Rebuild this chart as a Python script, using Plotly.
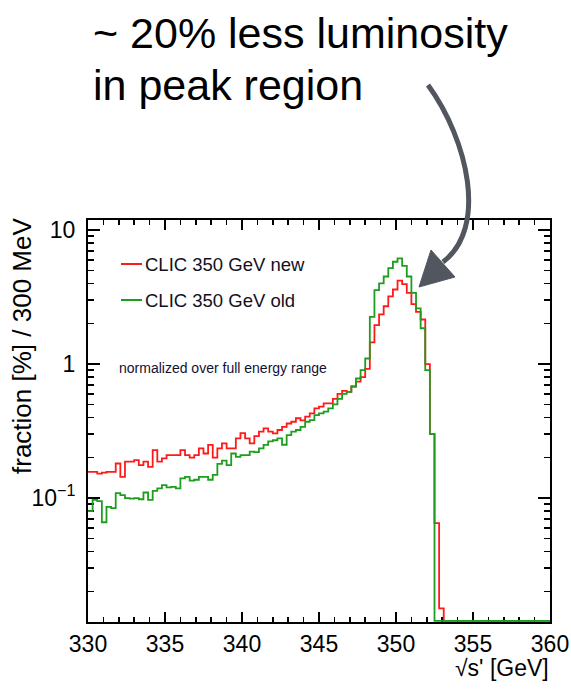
import plotly.graph_objects as go

# ---------------- data ----------------
E_MIN, E_MAX, BIN_W = 330.0, 360.0, 0.3

# CLIC 350 GeV new  (fraction [%] per 300 MeV bin, 100 bins from 330 to 360 GeV)
new_vals = [
    0.157, 0.157, 0.152, 0.155, 0.157, 0.157, 0.181, 0.144, 0.187, 0.187,
    0.192, 0.176, 0.187, 0.171, 0.228, 0.187, 0.198, 0.209, 0.209, 0.209,
    0.228, 0.209, 0.200, 0.209, 0.235, 0.215, 0.249, 0.200, 0.235, 0.256,
    0.235, 0.235, 0.279, 0.305, 0.279, 0.256, 0.290, 0.313, 0.331, 0.313,
    0.304, 0.322, 0.340, 0.360, 0.371, 0.394, 0.380, 0.405, 0.429, 0.467,
    0.481, 0.509, 0.509, 0.550, 0.600, 0.630, 0.620, 0.680, 0.740, 0.800,
    0.920, 1.450, 1.950, 2.350, 2.700, 3.200, 3.600, 4.200, 3.950, 3.400,
    2.800, 2.450, 2.150, 1.000, 0.300, 0.065, 0.015, 0, 0, 0,
    0, 0, 0, 0, 0, 0, 0, 0, 0, 0,
    0, 0, 0, 0, 0, 0, 0, 0, 0, 0,
]

# CLIC 350 GeV old
old_vals = [
    0.080, 0.097, 0.095, 0.066, 0.086, 0.084, 0.109, 0.105, 0.100, 0.099,
    0.100, 0.098, 0.110, 0.097, 0.113, 0.118, 0.125, 0.120, 0.121, 0.118,
    0.140, 0.144, 0.135, 0.137, 0.144, 0.144, 0.137, 0.149, 0.180, 0.190,
    0.176, 0.215, 0.203, 0.209, 0.209, 0.222, 0.220, 0.235, 0.249, 0.265,
    0.270, 0.279, 0.250, 0.295, 0.313, 0.322, 0.340, 0.371, 0.382, 0.416,
    0.429, 0.441, 0.467, 0.500, 0.550, 0.600, 0.620, 0.680, 0.780, 0.900,
    1.100, 2.250, 3.560, 4.000, 4.500, 5.200, 5.800, 6.150, 5.400, 4.500,
    3.400, 2.600, 1.850, 0.900, 0.300, 0, 0, 0, 0, 0,
    0, 0, 0, 0, 0, 0, 0, 0, 0, 0,
    0, 0, 0, 0, 0, 0, 0, 0, 0, 0,
]

series_names = ["CLIC 350 GeV new", "CLIC 350 GeV old"]
x_tick_vals = [330, 335, 340, 345, 350, 355, 360]
y_tick_vals = [0.1, 1, 10]
y_tick_text = ["10<sup>−1</sup>", "1", "10"]
y_log_range = [-1.925, 1.075]

# ---------------- styling ----------------
W, H = 571, 689
ML, MR, MT, MB = 88, 21, 220, 67
FONT = "Liberation Sans, Arial, Helvetica, sans-serif"
RED = "#ff1a1a"
GREEN = "#1e9e1e"
ARROW = "#52565e"

PW, PH = W - ML - MR, H - MT - MB


def paper(px, py):
    """convert figure pixel to paper coordinates"""
    return (px - ML) / PW, (H - MB - py) / PH


edges = [E_MIN + BIN_W * i for i in range(len(new_vals) + 1)]
floor = 10 ** (y_log_range[0] + 0.009)


def step_y(vals):
    ys = [v if v > 0 else floor for v in vals]
    return ys + [ys[-1]]


fig = go.Figure()
fig.add_trace(go.Scatter(x=edges, y=step_y(new_vals), mode="lines",
                         line=dict(color=RED, width=1.8, shape="hv"),
                         name=series_names[0], showlegend=False))
fig.add_trace(go.Scatter(x=edges, y=step_y(old_vals), mode="lines",
                         line=dict(color=GREEN, width=1.8, shape="hv"),
                         name=series_names[1], showlegend=False))

minor_y = [m * 10 ** e for e in (-2, -1, 0) for m in range(2, 10)]

fig.update_layout(
    width=W, height=H,
    margin=dict(l=ML, r=MR, t=MT, b=MB, pad=0, autoexpand=False),
    paper_bgcolor="white", plot_bgcolor="white",
    font=dict(family=FONT, color="black", size=23),
    xaxis=dict(range=[E_MIN, E_MAX], tickmode="array", tickvals=x_tick_vals,
               ticks="inside", ticklen=10, tickwidth=1.5, tickcolor="black",
               showline=True, linecolor="black", linewidth=2, mirror="allticks",
               showgrid=False, zeroline=False, layer="below traces",
               automargin=False,
               tickfont=dict(size=23, family=FONT),
               minor=dict(dtick=1, ticks="inside", ticklen=5, tickwidth=1.5,
                          tickcolor="black", showgrid=False)),
    yaxis=dict(type="log", range=y_log_range, tickmode="array",
               tickvals=y_tick_vals, ticktext=y_tick_text,
               ticks="inside", ticklen=12, tickwidth=1.5, tickcolor="black",
               showline=True, linecolor="black", linewidth=2, mirror="allticks",
               showgrid=False, zeroline=False, layer="below traces",
               automargin=False,
               tickfont=dict(size=23, family=FONT), ticklabelstandoff=6,
               minor=dict(tickmode="array", tickvals=minor_y, ticks="inside",
                          ticklen=6, tickwidth=1.5, tickcolor="black",
                          showgrid=False)),
)

annotations = []
# headline text
for txt, py in (("~ 20% less luminosity", 33), ("in peak region", 85)):
    x0, y0 = paper(91, py)
    annotations.append(dict(text=txt, x=x0, y=y0, xref="paper", yref="paper",
                            xanchor="left", yanchor="middle", showarrow=False,
                            font=dict(size=43, family=FONT, color="black")))
# legend entries (manual)
shapes = []
for name, col, py in ((series_names[0], RED, 264), (series_names[1], GREEN, 300)):
    xa, ya = paper(121, py)
    xb, _ = paper(142, py)
    shapes.append(dict(type="line", xref="paper", yref="paper", x0=xa, x1=xb,
                       y0=ya, y1=ya, line=dict(color=col, width=2)))
    xt, yt = paper(143, py)
    annotations.append(dict(text=name, x=xt, y=yt, xref="paper", yref="paper",
                            xanchor="left", yanchor="middle", showarrow=False,
                            font=dict(size=18.5, family=FONT, color="#111122")))
# small note
xn, yn = paper(117, 368)
annotations.append(dict(text="normalized over full energy range", x=xn, y=yn,
                        xref="paper", yref="paper", xanchor="left", yanchor="middle",
                        showarrow=False,
                        font=dict(size=14, family=FONT, color="#111133")))
# axis titles
xt, yt = paper(551, 668)
annotations.append(dict(text="√s' [GeV]", x=xt, y=yt, xref="paper", yref="paper",
                        xanchor="right", yanchor="middle", showarrow=False,
                        font=dict(size=23, family=FONT)))
xt, yt = paper(22, 216)
annotations.append(dict(text="fraction [%] / 300 MeV", x=xt, y=yt, xref="paper",
                        yref="paper", xanchor="center", yanchor="top",
                        textangle=-90, showarrow=False,
                        font=dict(size=26, family=FONT)))

# curved arrow
p0, p1, p2, p3 = paper(428, 85), paper(468, 140), paper(488, 228), paper(443, 262)
path = "M {},{} C {},{} {},{} {},{}".format(*p0, *p1, *p2, *p3)
shapes.append(dict(type="path", xref="paper", yref="paper", path=path,
                   line=dict(color=ARROW, width=5)))
t0, t1, t2 = paper(419, 287), paper(431, 250), paper(455, 277)
tri = "M {},{} L {},{} L {},{} Z".format(*t0, *t1, *t2)
shapes.append(dict(type="path", xref="paper", yref="paper", path=tri,
                   fillcolor=ARROW, line=dict(color=ARROW, width=1)))

fig.update_layout(annotations=annotations, shapes=shapes)
fig.write_html("out.html",
               config={"displayModeBar": False, "staticPlot": True},
               post_script="document.body.style.margin='0px';"
                           "document.body.style.padding='0px';")
